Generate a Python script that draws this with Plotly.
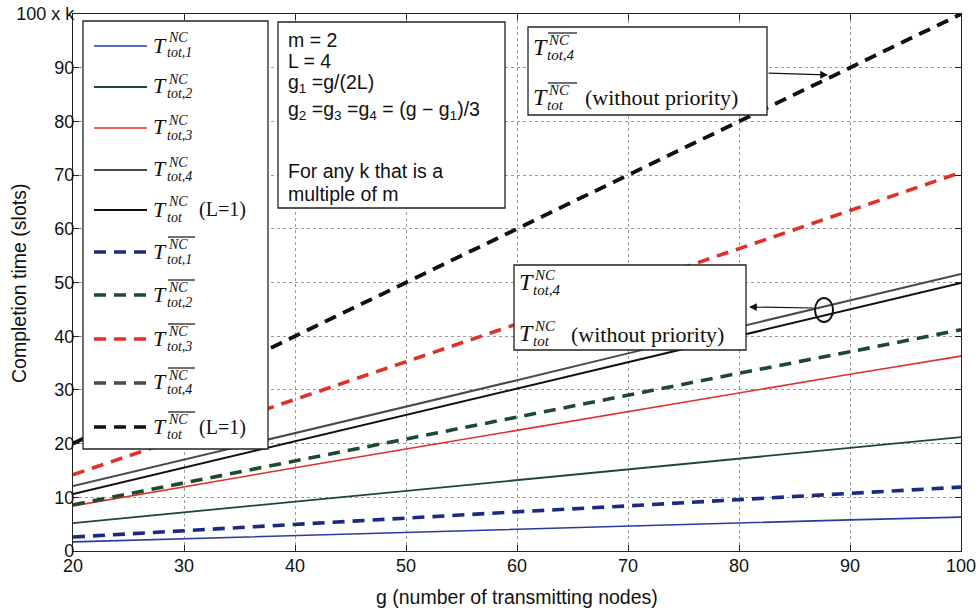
import plotly.graph_objects as go

# ---------------- data ----------------
g = [20, 30, 40, 50, 60, 70, 80, 90, 100]
t_nc_1 = [1.7, 2.3, 2.9, 3.5, 4.1, 4.6, 5.2, 5.8, 6.3]
t_nc_2 = [5.2, 7.2, 9.2, 11.2, 13.2, 15.2, 17.2, 19.2, 21.2]
t_nc_3 = [8.4, 12.0, 15.5, 19.0, 22.5, 26.0, 29.4, 32.9, 36.3]
t_nc_4 = [12.1, 17.0, 22.0, 26.9, 31.8, 36.8, 41.7, 46.7, 51.6]
t_nc_L1 = [10.6, 15.5, 20.4, 25.4, 30.3, 35.2, 40.1, 45.0, 49.9]
t_bar_1 = [2.6, 3.8, 4.9, 6.1, 7.3, 8.4, 9.6, 10.8, 11.9]
t_bar_2 = [8.6, 12.7, 16.8, 20.9, 25.0, 29.0, 33.1, 37.1, 41.2]
t_bar_3 = [14.2, 21.2, 28.2, 35.2, 42.2, 49.2, 56.3, 63.4, 70.5]
t_bar_4 = [20, 30, 40, 50, 60, 70, 80, 90, 100]
t_bar_L1 = [20, 30, 40, 50, 60, 70, 80, 90, 100]

y_tickvals = [0, 10, 20, 30, 40, 50, 60, 70, 80, 90, 100]
y_ticktext = ["0", "10", "20", "30", "40", "50", "60", "70", "80", "90", "100 x k"]
x_tickvals = [20, 30, 40, 50, 60, 70, 80, 90, 100]

BLUE = "#2b3aa0"
NAVY = "#1c2b80"
GREEN = "#1d4a2c"
RED = "#e0302a"
GREY = "#4a4a4a"
BLACK = "#111111"
DASH = "12px,8px"

series = [
    ("T_nc_1", t_nc_1, BLUE, "solid", 1.6),
    ("T_nc_2", t_nc_2, GREEN, "solid", 1.8),
    ("T_nc_3", t_nc_3, RED, "solid", 1.6),
    ("T_nc_4", t_nc_4, GREY, "solid", 2.0),
    ("T_nc_L1", t_nc_L1, BLACK, "solid", 2.0),
    ("T_bar_1", t_bar_1, NAVY, DASH, 3.6),
    ("T_bar_2", t_bar_2, GREEN, DASH, 3.6),
    ("T_bar_3", t_bar_3, RED, DASH, 3.6),
    ("T_bar_4", t_bar_4, GREY, DASH, 3.6),
    ("T_bar_L1", t_bar_L1, BLACK, DASH, 3.6),
]

fig = go.Figure()
for name, vals, col, dash, w in series:
    fig.add_trace(go.Scatter(x=g, y=vals, mode="lines", name=name,
                             line=dict(color=col, dash=dash, width=w),
                             showlegend=False, hoverinfo="skip"))

# plot area in page pixels
PL, PR, PT, PB = 73, 961, 14, 551
W, H = 978, 611


def px(x):
    return (x - PL) / (PR - PL)


def py(y):
    return (PB - y) / (PB - PT)


shapes = []
annotations = []


def box(x0, y0, x1, y1):
    shapes.append(dict(type="rect", xref="paper", yref="paper",
                       x0=px(x0), x1=px(x1), y0=py(y1), y1=py(y0),
                       fillcolor="white", line=dict(color="#222", width=1.3),
                       layer="above"))


def text(x, y, s, size, family="Liberation Sans", anchor="left", color="#111",
         angle=0):
    annotations.append(dict(xref="paper", yref="paper", x=px(x), y=py(y),
                            text=s, showarrow=False, xanchor=anchor,
                            yanchor="middle", borderpad=0, textangle=angle,
                            font=dict(family=family, size=size, color=color)))


SERIF = "Liberation Serif"


def tlabel(x, yc, sub, over=False, suffix=None, big=22, small=14,
           suffix_dx=46, over_w=27):
    text(x, yc, "<i>T</i>", big, SERIF)
    text(x + 15, yc - 7, "<i>NC</i>", small, SERIF)
    text(x + 14, yc + 8, "<i>" + sub + "</i>", small, SERIF)
    if over:
        shapes.append(dict(type="line", xref="paper", yref="paper",
                           x0=px(x + 16), x1=px(x + 16 + over_w),
                           y0=py(yc - 14), y1=py(yc - 14),
                           line=dict(color="#111", width=1.2), layer="above"))
    if suffix:
        text(x + suffix_dx, yc + 1, suffix, big - 2, SERIF)


# ---------------- legend box ----------------
box(83, 21, 268, 449)
leg_y = [46, 87, 128, 170, 210, 252, 295, 339, 383, 427]
leg = [
    (BLUE, "solid", 1.6, "tot,1", False, None),
    (GREEN, "solid", 1.8, "tot,2", False, None),
    (RED, "solid", 1.6, "tot,3", False, None),
    (GREY, "solid", 2.0, "tot,4", False, None),
    (BLACK, "solid", 2.0, "tot", False, "(L=1)"),
    (NAVY, DASH, 3.6, "tot,1", True, None),
    (GREEN, DASH, 3.6, "tot,2", True, None),
    (RED, DASH, 3.6, "tot,3", True, None),
    (GREY, DASH, 3.6, "tot,4", True, None),
    (BLACK, DASH, 3.6, "tot", True, "(L=1)"),
]
for yy, (col, dash, w, sub, over, suf) in zip(leg_y, leg):
    shapes.append(dict(type="line", xref="paper", yref="paper",
                       x0=px(94), x1=px(147), y0=py(yy), y1=py(yy),
                       line=dict(color=col, width=w, dash=dash), layer="above"))
    tlabel(152, yy - 1, sub, over=over, suffix=suf)

# ---------------- parameter box ----------------
box(278, 22, 505, 208)
PS = 19.5
text(287, 40, "m = 2", PS)
text(287, 61, "L = 4", PS)
text(287, 84, "g<sub>1</sub> =g/(2L)", PS)
text(287, 110, "g<sub>2</sub> =g<sub>3</sub> =g<sub>4</sub> = (g − g<sub>1</sub>)/3", PS)
text(287, 171, "For any k that is a", PS)
text(287, 194, "multiple of m", PS)

# ---------------- annotation box (dashed) ----------------
box(528, 27, 767, 115)
tlabel(532, 47, "tot,4", over=True, big=24, small=15, over_w=29)
tlabel(532, 97, "tot", over=True, suffix="(without priority)", big=24,
       small=15, suffix_dx=52, over_w=29)
annotations.append(dict(xref="paper", yref="paper", x=px(828), y=py(75),
                        ax=767 - 828, ay=73 - 75, axref="pixel", ayref="pixel",
                        text="", showarrow=True, arrowhead=2, arrowsize=1.3,
                        arrowwidth=1.2, arrowcolor="#111"))

# ---------------- annotation box (solid) ----------------
box(514, 265, 746, 350)
tlabel(518, 282, "tot,4", big=24, small=15)
tlabel(518, 333, "tot", suffix="(without priority)", big=24, small=15,
       suffix_dx=52)
annotations.append(dict(xref="paper", yref="paper", x=px(749), y=py(307),
                        ax=815 - 749, ay=308 - 307, axref="pixel", ayref="pixel",
                        text="", showarrow=True, arrowhead=2, arrowsize=1.3,
                        arrowwidth=1.2, arrowcolor="#111"))
shapes.append(dict(type="circle", xref="paper", yref="paper",
                   x0=px(815), x1=px(833), y0=py(322), y1=py(298),
                   line=dict(color="#111", width=2), layer="above"))

# ---------------- axis titles ----------------
text(19, 284, "Completion time (slots)", 19.5, anchor="center", angle=-90)
text(517, 597, "g (number of transmitting nodes)", 19.5, anchor="center")

axis_common = dict(showline=True, linecolor="#222", linewidth=1.3,
                   mirror="ticks", ticks="inside", ticklen=6, tickcolor="#222",
                   showgrid=True, gridcolor="#9a9a9a", griddash="dot",
                   gridwidth=1, zeroline=False, automargin=False,
                   ticklabeloverflow="allow",
                   tickfont=dict(family="Liberation Sans", size=18, color="#111"))

fig.update_layout(
    width=W, height=H,
    margin=dict(l=PL, r=W - PR, t=PT, b=H - PB),
    plot_bgcolor="white", paper_bgcolor="white",
    xaxis=dict(range=[20, 100], tickvals=x_tickvals, ticklabelstandoff=-2,
               **axis_common),
    yaxis=dict(range=[0, 100], tickvals=y_tickvals, ticktext=y_ticktext,
               ticklabelstandoff=-6, **axis_common),
    shapes=shapes,
    annotations=annotations,
)

fig.write_html(
    "out.html",
    config={"displayModeBar": False},
    post_script="document.body.style.margin='0';document.body.style.overflow='hidden';",
)
